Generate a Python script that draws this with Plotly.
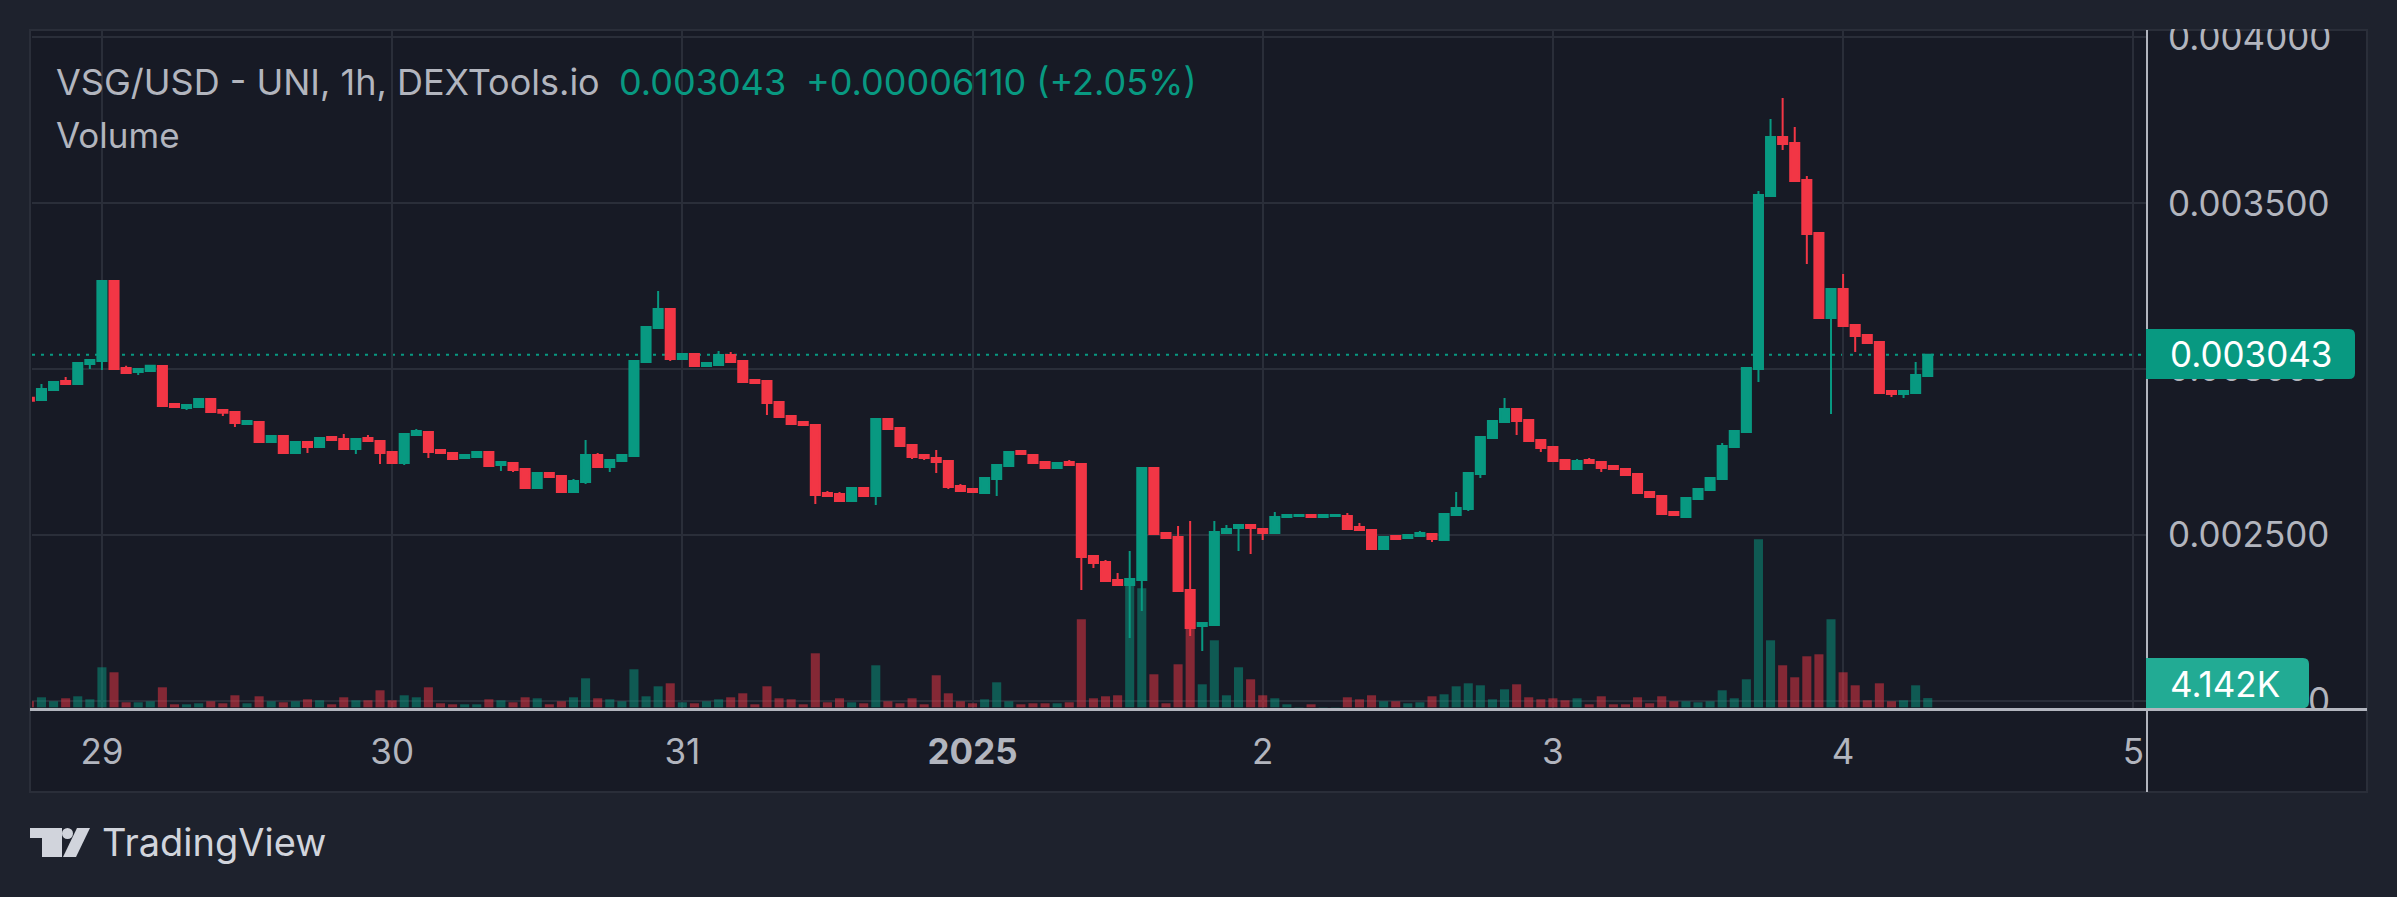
import plotly.graph_objects as go
import pandas as pd

# ---------------- data (hourly candles, VSG/USD) ----------------
start_time = "2024-12-28 18:00"

open_ = [
    0.0029138, 0.0029068, 0.0029370, 0.0029641, 0.0029551, 0.0030154, 0.0030244, 0.0032657, 0.0030033, 0.0029913,
    0.0029943, 0.0030094, 0.0028948, 0.0028827, 0.0028857, 0.0029098, 0.0028767, 0.0028706, 0.0028344, 0.0028405,
    0.0027802, 0.0027983, 0.0027470, 0.0027802, 0.0027651, 0.0027952, 0.0027892, 0.0027591, 0.0027922, 0.0027832,
    0.0027500, 0.0027168, 0.0028013, 0.0028103, 0.0027560, 0.0027470, 0.0027319, 0.0027349, 0.0027500, 0.0027108,
    0.0027168, 0.0026987, 0.0026414, 0.0026867, 0.0026776, 0.0026294, 0.0026595, 0.0027410, 0.0027048, 0.0027229,
    0.0027379, 0.0030214, 0.0031240, 0.0031812, 0.0030305, 0.0030455, 0.0030094, 0.0030124, 0.0030425, 0.0030244,
    0.0029671, 0.0029641, 0.0029008, 0.0028586, 0.0028405, 0.0028314, 0.0026264, 0.0026233, 0.0026022, 0.0026414,
    0.0026173, 0.0028495, 0.0028224, 0.0027711, 0.0027410, 0.0027319, 0.0027229, 0.0026475, 0.0026384, 0.0026264,
    0.0026686, 0.0027078, 0.0027530, 0.0027410, 0.0027198, 0.0027018, 0.0027198, 0.0027138, 0.0024364, 0.0024183,
    0.0023640, 0.0023489, 0.0023640, 0.0027018, 0.0025057, 0.0024937, 0.0023338, 0.0022253, 0.0022283, 0.0025057,
    0.0025208, 0.0025299, 0.0025178, 0.0025057, 0.0025540, 0.0025570, 0.0025600, 0.0025540, 0.0025570, 0.0025570,
    0.0025238, 0.0025148, 0.0024575, 0.0024967, 0.0024907, 0.0024967, 0.0025027, 0.0024846, 0.0025600, 0.0025781,
    0.0026837, 0.0027922, 0.0028405, 0.0028797, 0.0028465, 0.0027862, 0.0027651, 0.0027259, 0.0026987, 0.0027259,
    0.0027198, 0.0027078, 0.0026987, 0.0026837, 0.0026294, 0.0026173, 0.0025691, 0.0025540, 0.0026083, 0.0026354,
    0.0026686, 0.0027651, 0.0028103, 0.0030003, 0.0035220, 0.0037000, 0.0036819, 0.0035703, 0.0034104, 0.0031541,
    0.0032416, 0.0031330, 0.0031028, 0.0030817, 0.0029340, 0.0029249, 0.0029279, 0.0029792,
]

high_ = [
    0.0029219, 0.0029551, 0.0029641, 0.0029762, 0.0030184, 0.0030274, 0.0032657, 0.0032657, 0.0030103, 0.0030003,
    0.0030124, 0.0030124, 0.0028948, 0.0028917, 0.0029098, 0.0029098, 0.0028767, 0.0028706, 0.0028465, 0.0028405,
    0.0028013, 0.0027983, 0.0027802, 0.0027802, 0.0027922, 0.0027952, 0.0028043, 0.0027892, 0.0028013, 0.0027862,
    0.0027500, 0.0028043, 0.0028194, 0.0028103, 0.0027560, 0.0027470, 0.0027410, 0.0027500, 0.0027530, 0.0027198,
    0.0027168, 0.0026987, 0.0026867, 0.0026867, 0.0026776, 0.0026686, 0.0027862, 0.0027470, 0.0027259, 0.0027410,
    0.0030244, 0.0031300, 0.0032355, 0.0031812, 0.0030455, 0.0030455, 0.0030214, 0.0030546, 0.0030516, 0.0030244,
    0.0029671, 0.0029641, 0.0029008, 0.0028586, 0.0028405, 0.0028314, 0.0026324, 0.0026294, 0.0026414, 0.0026414,
    0.0028495, 0.0028495, 0.0028224, 0.0027711, 0.0027440, 0.0027560, 0.0027229, 0.0026535, 0.0026384, 0.0026716,
    0.0027108, 0.0027500, 0.0027530, 0.0027410, 0.0027198, 0.0027168, 0.0027259, 0.0027138, 0.0024364, 0.0024243,
    0.0023851, 0.0024514, 0.0027048, 0.0027018, 0.0025057, 0.0025268, 0.0025419, 0.0022343, 0.0025419, 0.0025299,
    0.0025299, 0.0025329, 0.0025178, 0.0025691, 0.0025600, 0.0025600, 0.0025600, 0.0025600, 0.0025600, 0.0025660,
    0.0025359, 0.0025148, 0.0024937, 0.0024967, 0.0024997, 0.0025118, 0.0025027, 0.0025630, 0.0026294, 0.0026867,
    0.0027952, 0.0028435, 0.0029129, 0.0028797, 0.0028465, 0.0027862, 0.0027681, 0.0027259, 0.0027289, 0.0027319,
    0.0027198, 0.0027078, 0.0026987, 0.0026867, 0.0026294, 0.0026173, 0.0025721, 0.0026113, 0.0026384, 0.0026716,
    0.0027771, 0.0028133, 0.0030033, 0.0035371, 0.0037542, 0.0038176, 0.0037301, 0.0035823, 0.0034104, 0.0032416,
    0.0032868, 0.0031330, 0.0031028, 0.0030848, 0.0029340, 0.0029340, 0.0030214, 0.0030455,
]

low_ = [
    0.0029047, 0.0029068, 0.0029370, 0.0029521, 0.0029551, 0.0030003, 0.0029973, 0.0030003, 0.0029882, 0.0029822,
    0.0029943, 0.0028887, 0.0028857, 0.0028767, 0.0028857, 0.0028706, 0.0028586, 0.0028254, 0.0028344, 0.0027802,
    0.0027802, 0.0027470, 0.0027470, 0.0027470, 0.0027651, 0.0027862, 0.0027591, 0.0027440, 0.0027832, 0.0027138,
    0.0027168, 0.0027108, 0.0028013, 0.0027319, 0.0027470, 0.0027289, 0.0027319, 0.0027349, 0.0027078, 0.0026927,
    0.0026897, 0.0026414, 0.0026384, 0.0026746, 0.0026294, 0.0026264, 0.0026535, 0.0027048, 0.0026897, 0.0027229,
    0.0027379, 0.0030214, 0.0031240, 0.0030244, 0.0030274, 0.0030094, 0.0030094, 0.0030124, 0.0030184, 0.0029611,
    0.0029581, 0.0028616, 0.0028556, 0.0028344, 0.0028314, 0.0025932, 0.0026173, 0.0026022, 0.0026022, 0.0026173,
    0.0025902, 0.0028194, 0.0027681, 0.0027289, 0.0027259, 0.0026867, 0.0026384, 0.0026324, 0.0026264, 0.0026264,
    0.0026173, 0.0027078, 0.0027440, 0.0027168, 0.0027018, 0.0027018, 0.0027108, 0.0023338, 0.0024002, 0.0023610,
    0.0023489, 0.0021891, 0.0022705, 0.0024997, 0.0024907, 0.0023308, 0.0021951, 0.0021499, 0.0022283, 0.0025027,
    0.0024514, 0.0024424, 0.0024846, 0.0025057, 0.0025540, 0.0025570, 0.0025540, 0.0025540, 0.0025570, 0.0025178,
    0.0025148, 0.0024575, 0.0024575, 0.0024846, 0.0024907, 0.0024937, 0.0024786, 0.0024846, 0.0025600, 0.0025721,
    0.0026716, 0.0027922, 0.0028405, 0.0028013, 0.0027832, 0.0027500, 0.0027229, 0.0026987, 0.0026987, 0.0027168,
    0.0026897, 0.0026987, 0.0026806, 0.0026264, 0.0026143, 0.0025630, 0.0025600, 0.0025540, 0.0026083, 0.0026354,
    0.0026686, 0.0027651, 0.0028103, 0.0029611, 0.0035220, 0.0036607, 0.0035673, 0.0033170, 0.0031541, 0.0028646,
    0.0031300, 0.0030516, 0.0030787, 0.0029279, 0.0029159, 0.0029129, 0.0029279, 0.0029792,
]

close_ = [
    0.0029047, 0.0029400, 0.0029611, 0.0029551, 0.0030184, 0.0030274, 0.0032657, 0.0030003, 0.0029882, 0.0030003,
    0.0030103, 0.0028887, 0.0028857, 0.0028917, 0.0029098, 0.0028706, 0.0028685, 0.0028375, 0.0028435, 0.0027802,
    0.0027983, 0.0027470, 0.0027802, 0.0027651, 0.0027922, 0.0027862, 0.0027591, 0.0027892, 0.0027832, 0.0027470,
    0.0027168, 0.0028043, 0.0028133, 0.0027500, 0.0027470, 0.0027289, 0.0027410, 0.0027500, 0.0027078, 0.0027198,
    0.0026957, 0.0026414, 0.0026867, 0.0026746, 0.0026294, 0.0026625, 0.0027410, 0.0027048, 0.0027259, 0.0027410,
    0.0030244, 0.0031270, 0.0031812, 0.0030305, 0.0030455, 0.0030094, 0.0030184, 0.0030425, 0.0030214, 0.0029611,
    0.0029581, 0.0028978, 0.0028556, 0.0028344, 0.0028314, 0.0026203, 0.0026173, 0.0026022, 0.0026414, 0.0026173,
    0.0028495, 0.0028194, 0.0027681, 0.0027349, 0.0027319, 0.0027198, 0.0026445, 0.0026324, 0.0026294, 0.0026716,
    0.0027108, 0.0027500, 0.0027440, 0.0027168, 0.0027018, 0.0027168, 0.0027108, 0.0024334, 0.0024153, 0.0023610,
    0.0023489, 0.0023670, 0.0027018, 0.0025027, 0.0024907, 0.0023308, 0.0022192, 0.0022343, 0.0025087, 0.0025178,
    0.0025299, 0.0025208, 0.0025057, 0.0025540, 0.0025600, 0.0025600, 0.0025540, 0.0025600, 0.0025600, 0.0025178,
    0.0025148, 0.0024575, 0.0024937, 0.0024876, 0.0024997, 0.0025057, 0.0024876, 0.0025630, 0.0025811, 0.0026867,
    0.0027952, 0.0028435, 0.0028797, 0.0028435, 0.0027832, 0.0027621, 0.0027229, 0.0026987, 0.0027229, 0.0027168,
    0.0027018, 0.0026987, 0.0026806, 0.0026264, 0.0026143, 0.0025630, 0.0025600, 0.0026113, 0.0026384, 0.0026716,
    0.0027681, 0.0028133, 0.0030033, 0.0035250, 0.0037000, 0.0036788, 0.0035673, 0.0034074, 0.0031541, 0.0032416,
    0.0031300, 0.0030998, 0.0030787, 0.0029279, 0.0029249, 0.0029340, 0.0029819, 0.0030430,
]

volume_k = [
    2.70, 4.50, 2.70, 4.05, 4.95, 3.60, 18.01, 15.76, 2.25, 2.25,
    2.70, 9.00, 1.35, 1.35, 1.80, 2.70, 1.80, 5.40, 1.80, 4.95,
    2.70, 2.25, 2.70, 3.60, 3.15, 1.35, 4.50, 3.15, 3.15, 7.65,
    3.15, 5.40, 4.50, 9.00, 1.80, 1.35, 1.35, 1.35, 3.60, 3.15,
    2.25, 4.50, 4.05, 1.35, 2.70, 4.50, 13.06, 4.05, 3.60, 2.70,
    17.11, 4.95, 9.45, 10.80, 2.25, 1.80, 2.70, 3.60, 4.50, 6.30,
    1.35, 9.45, 4.05, 3.60, 1.35, 24.31, 2.25, 4.05, 2.25, 1.80,
    18.91, 2.70, 1.80, 4.05, 1.35, 14.41, 6.30, 2.70, 1.80, 3.60,
    11.25, 2.70, 1.35, 1.80, 1.80, 1.80, 2.25, 39.62, 4.05, 4.95,
    5.40, 56.28, 53.57, 14.86, 1.80, 19.36, 38.27, 10.35, 30.16, 5.40,
    18.01, 12.61, 5.40, 4.05, 1.35, 0.14, 1.35, 0.14, 0.14, 4.50,
    3.60, 5.40, 2.70, 2.70, 1.80, 2.25, 4.95, 5.85, 9.45, 10.80,
    9.90, 3.60, 8.10, 10.35, 4.50, 3.60, 4.05, 3.15, 4.05, 1.35,
    4.95, 1.35, 1.35, 4.50, 1.80, 4.95, 2.70, 2.70, 2.25, 2.70,
    7.65, 4.05, 12.61, 75.63, 30.16, 18.91, 13.51, 22.96, 23.86, 39.62,
    15.76, 9.90, 3.15, 10.80, 2.70, 3.15, 9.90, 4.142,
]

day_ticks = ["2024-12-29", "2024-12-30", "2024-12-31", "2025-01-01",
             "2025-01-02", "2025-01-03", "2025-01-04", "2025-01-05"]
day_labels = ["29", "30", "31", "<b>2025</b>", "2", "3", "4", "5"]

last_price = 0.003043
last_volume_label = "4.142K"
title_text = "VSG/USD - UNI, 1h, DEXTools.io"
price_text = "0.003043"
change_text = "+0.00006110 (+2.05%)"

# ---------------- styling ----------------
W, H = 2397, 897
ML, MR, MT, MB = 32, 250, 30, 188
PW = W - ML - MR
PH = H - MT - MB

OUTER = "#1e222d"
INNER = "#171a25"
GRID = "#2a2e39"
FRAME = "#2a2e39"
TEXT = "#b2b5be"
AXISLINE = "#b2b5be"
UP = "#089981"
DOWN = "#f23645"
UP_VOL = "rgba(8,153,129,0.5)"
DOWN_VOL = "rgba(242,54,69,0.5)"
FONT = "Inter"


def px(x):
    return (x - ML) / PW


def py(y):
    return (H - MB - y) / PH


def rbox(x0, y0, x1, y1, r):
    return (f"M {px(x0)} {py(y0)} L {px(x1 - r)} {py(y0)} "
            f"Q {px(x1)} {py(y0)} {px(x1)} {py(y0 + r)} "
            f"L {px(x1)} {py(y1 - r)} Q {px(x1)} {py(y1)} {px(x1 - r)} {py(y1)} "
            f"L {px(x0)} {py(y1)} Z")


times = pd.date_range(start_time, periods=len(close_), freq="h")
vol_colors = [UP_VOL if c >= o else DOWN_VOL for o, c in zip(open_, close_)]

fig = go.Figure()
fig.add_trace(go.Bar(
    x=times, y=volume_k, marker=dict(color=vol_colors, line=dict(width=0)),
    xaxis="x", yaxis="y", hoverinfo="skip",
))
fig.add_trace(go.Candlestick(
    x=times, open=open_, high=high_, low=low_, close=close_,
    xaxis="x", yaxis="y2",
    increasing=dict(line=dict(color=UP, width=2), fillcolor=UP),
    decreasing=dict(line=dict(color=DOWN, width=2), fillcolor=DOWN),
    whiskerwidth=0,
))

shapes = [
    # chart frame
    dict(type="rect", xref="paper", yref="paper", layer="below",
         x0=px(30), x1=px(2367), y0=py(792), y1=py(30),
         fillcolor=INNER, line=dict(color=FRAME, width=2)),
    # last price dotted line
    dict(type="line", xref="paper", yref="y2", layer="below",
         x0=0, x1=1, y0=last_price, y1=last_price,
         line=dict(color=UP, width=2, dash="3px,6px")),
    # cover above the frame (clips the top tick label)
    dict(type="rect", xref="paper", yref="paper", layer="above",
         x0=px(0), x1=px(W), y0=py(29), y1=py(0),
         fillcolor=OUTER, line=dict(width=0)),
    # clip price labels that fall below the pane
    dict(type="rect", xref="paper", yref="paper", layer="above",
         x0=px(2148), x1=px(2366), y0=py(724), y1=py(709),
         fillcolor=INNER, line=dict(width=0)),
    # price-scale separator
    dict(type="line", xref="paper", yref="paper", layer="above",
         x0=px(2147), x1=px(2147), y0=py(30), y1=py(792),
         line=dict(color=AXISLINE, width=2)),
    # time-scale separator
    dict(type="line", xref="paper", yref="paper", layer="above",
         x0=px(30), x1=px(2367), y0=py(709.5), y1=py(709.5),
         line=dict(color=AXISLINE, width=3)),
    # last price label box
    dict(type="path", xref="paper", yref="paper", layer="above",
         path=rbox(2146, 329, 2355, 379, 6), fillcolor=UP, line=dict(width=0)),
    # last volume label box
    dict(type="path", xref="paper", yref="paper", layer="above",
         path=rbox(2146, 658, 2309, 708, 6), fillcolor="#22ab94", line=dict(width=0)),
    # TradingView logo
    dict(type="path", xref="paper", yref="paper", layer="above",
         path=(f"M {px(30)} {py(828)} L {px(62)} {py(828)} L {px(62)} {py(857)} "
               f"L {px(42)} {py(857)} L {px(42)} {py(838)} L {px(30)} {py(838)} Z"),
         fillcolor="#d1d4dc", line=dict(width=0)),
    dict(type="circle", xref="paper", yref="paper", layer="above",
         x0=px(62), x1=px(73), y0=py(839), y1=py(828),
         fillcolor="#d1d4dc", line=dict(width=0)),
    dict(type="path", xref="paper", yref="paper", layer="above",
         path=(f"M {px(77)} {py(828)} L {px(90)} {py(828)} L {px(76)} {py(857)} "
               f"L {px(63)} {py(857)} Z"),
         fillcolor="#d1d4dc", line=dict(width=0)),
]

annotations = [
    dict(text=title_text, x=px(54), y=py(82), xanchor="left", yanchor="middle",
         font=dict(size=36, color=TEXT, family=FONT)),
    dict(text=price_text, x=px(617), y=py(82), xanchor="left", yanchor="middle",
         font=dict(size=36, color=UP, family=FONT)),
    dict(text=change_text, x=px(804), y=py(82), xanchor="left", yanchor="middle",
         font=dict(size=36, color=UP, family=FONT)),
    dict(text="Volume", x=px(54), y=py(135), xanchor="left", yanchor="middle",
         font=dict(size=35, color=TEXT, family=FONT)),
    dict(text=f"{last_price:.6f}", x=px(2168), y=py(354), xanchor="left", yanchor="middle",
         font=dict(size=35, color="#ffffff", family=FONT)),
    dict(text=last_volume_label, x=px(2168), y=py(684), xanchor="left", yanchor="middle",
         font=dict(size=35, color="#ffffff", family=FONT)),
    dict(text="TradingView", x=px(100), y=py(842), xanchor="left", yanchor="middle",
         font=dict(size=38, color="#d1d4dc", family=FONT)),
]
for a in annotations:
    a.update(xref="paper", yref="paper", showarrow=False)

fig.update_layout(
    width=W, height=H,
    margin=dict(l=ML, r=MR, t=MT, b=MB, pad=0),
    paper_bgcolor=OUTER, plot_bgcolor=INNER,
    showlegend=False,
    bargap=0.25, boxgap=0.25, boxgroupgap=0,
    font=dict(family=FONT, color=TEXT),
    xaxis=dict(
        type="date", range=["2024-12-28 18:13", "2025-01-05 01:08"],
        tickvals=day_ticks, ticktext=day_labels,
        showgrid=True, gridcolor=GRID, gridwidth=2,
        ticks="", showline=False, zeroline=False,
        rangeslider=dict(visible=False),
        tickfont=dict(size=35, color=TEXT, family=FONT),
        ticklabelstandoff=19,
    ),
    yaxis=dict(range=[-0.77, 304.9], visible=False, showgrid=False, zeroline=False),
    yaxis2=dict(
        overlaying="y", side="right",
        range=[0.0019750, 0.0040226],
        tick0=0, dtick=0.0005, tickformat=".6f",
        showgrid=True, gridcolor=GRID, gridwidth=2,
        zeroline=False, ticks="", showline=False,
        tickfont=dict(size=35, color=TEXT, family=FONT),
        ticklabelstandoff=20,
    ),
    shapes=shapes,
    annotations=annotations,
)

fig.write_html("out.html")
